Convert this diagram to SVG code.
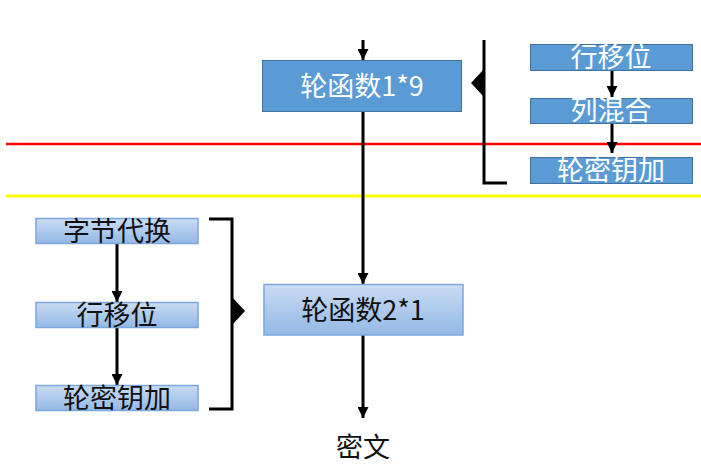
<svg xmlns="http://www.w3.org/2000/svg" width="701" height="473" viewBox="0 0 701 473">
<defs>
<linearGradient id="lg" x1="0" y1="0" x2="0" y2="1">
<stop offset="0" stop-color="#c9dcf2"/>
<stop offset="1" stop-color="#93b8e6"/>
</linearGradient>
<marker id="ah" viewBox="0 0 10 10" refX="10" refY="5" markerWidth="11" markerHeight="11" markerUnits="userSpaceOnUse" orient="auto">
<path d="M0,0 L10,5 L0,10 Z" fill="#000"/>
</marker>
</defs>
<style>
.solid{fill:#5b9bd5;stroke:#41719c;stroke-width:1}
.grad{fill:url(#lg);stroke:#7ba7dc;stroke-width:1.5}
.t{font-family:"Noto Sans CJK SC","Liberation Sans",sans-serif;font-size:27px;text-anchor:middle}
.w{fill:#fff}
.k{fill:#111}
.ln{stroke:#000;stroke-width:3;fill:none}
.br{stroke:#000;stroke-width:3;fill:none}
</style>
<rect width="701" height="473" fill="#fff"/>
<line x1="6" y1="144" x2="701" y2="144" stroke="#ff0000" stroke-width="2.5"/>
<line x1="6" y1="196" x2="701" y2="196" stroke="#ffff00" stroke-width="3"/>
<g id="connectors">
<line class="ln" x1="363" y1="40" x2="363" y2="60" marker-end="url(#ah)"/>
<line class="ln" x1="363" y1="112" x2="363" y2="284" marker-end="url(#ah)"/>
<line class="ln" x1="363" y1="335" x2="363" y2="418" marker-end="url(#ah)"/>
<line class="ln" x1="612" y1="70" x2="612" y2="97" marker-end="url(#ah)"/>
<line class="ln" x1="612" y1="123" x2="612" y2="153" marker-end="url(#ah)"/>
<line class="ln" x1="117" y1="243" x2="117" y2="302" marker-end="url(#ah)"/>
<line class="ln" x1="117" y1="327" x2="117" y2="385" marker-end="url(#ah)"/>
</g>
<g id="bracket-right">
<path class="br" d="M484,40 V183 H507"/>
<path d="M484,69 L471,83 L484,97 Z" fill="#000"/>
</g>
<g id="bracket-left">
<path class="br" d="M209,219 H232 V409 H209"/>
<path d="M232,297 L245,311 L232,325 Z" fill="#000"/>
</g>
<g id="round1">
<rect class="solid" x="262.5" y="60.5" width="199" height="51"/>
<text class="t w" x="362" y="96">轮函数1*9</text>
</g>
<g id="round2">
<rect class="grad" x="264" y="284.5" width="199" height="50.5"/>
<text class="t k" x="363" y="320">轮函数2*1</text>
</g>
<g id="r-shift">
<rect class="solid" x="530.5" y="44.5" width="162" height="26"/>
<text class="t w" x="611" y="67">行移位</text>
</g>
<g id="r-mix">
<rect class="solid" x="530.5" y="98.5" width="162" height="25"/>
<text class="t w" x="611" y="120">列混合</text>
</g>
<g id="r-key">
<rect class="solid" x="530.5" y="157.5" width="162" height="26"/>
<text class="t w" x="611" y="180">轮密钥加</text>
</g>
<g id="l-sub">
<rect class="grad" x="36" y="218.5" width="162" height="25"/>
<text class="t k" x="117" y="241">字节代换</text>
</g>
<g id="l-shift">
<rect class="grad" x="36" y="302.5" width="162" height="25"/>
<text class="t k" x="117" y="325">行移位</text>
</g>
<g id="l-key">
<rect class="grad" x="36" y="385.5" width="162" height="25"/>
<text class="t k" x="117" y="408">轮密钥加</text>
</g>
<g id="cipher">
<text class="t k" x="363" y="457">密文</text>
</g>
</svg>
